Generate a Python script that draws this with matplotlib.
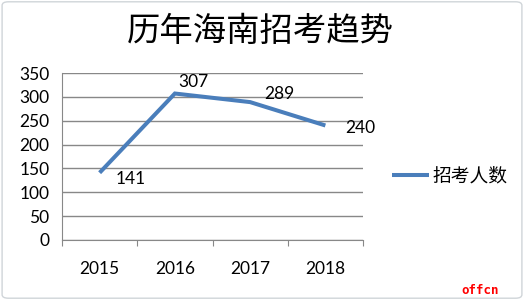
import matplotlib
matplotlib.use('Agg')
import matplotlib.pyplot as plt
from matplotlib.patches import FancyBboxPatch

plt.rcParams['font.family'] = ['Lato', 'Noto Sans CJK SC', 'DejaVu Sans']

years = ['2015', '2016', '2017', '2018']
applicants = [141, 307, 289, 240]
y_ticks = [0, 50, 100, 150, 200, 250, 300, 350]
series_name = '招考人数'
title = '历年海南招考趋势'

# label offsets in pixels (dx, dy) relative to each point
label_offsets = [(16, -6), (3, 12), (14, 8), (20, -3)]

LINE = '#4a7ebb'
GRID = '#888888'

fig = plt.figure(figsize=(5.24, 3.0), dpi=100)
fig.patch.set_facecolor('white')
ax = fig.add_axes([62 / 524, 1 - 240 / 300, 301 / 524, 167 / 300])

x = list(range(len(years)))
line, = ax.plot(x, applicants, color=LINE, linewidth=2.9,
                solid_capstyle='butt', solid_joinstyle='miter', label=series_name)

for xi, v, (dx, dy) in zip(x, applicants, label_offsets):
    ax.annotate(str(v), xy=(xi, v), xytext=(dx * 0.72, dy * 0.72),
                textcoords='offset points', ha='left', va='center',
                fontsize=12.5, color='black')

ax.set_xlim(-0.5, len(years) - 0.5)
ax.set_ylim(0, 350)
ax.set_yticks(y_ticks)
ax.tick_params(axis='y', length=0, pad=9, labelsize=12.5)
ax.yaxis.grid(True, color=GRID, linewidth=1)
ax.set_axisbelow(True)

ax.set_xticks([i - 0.5 for i in range(len(years) + 1)])
ax.set_xticklabels([])
ax.tick_params(axis='x', which='major', length=4, color=GRID, direction='out')
ax.set_xticks(x, minor=True)
ax.set_xticklabels(years, minor=True)
ax.tick_params(axis='x', which='minor', length=0, pad=15, labelsize=12.5)

for side in ['top', 'right']:
    ax.spines[side].set_visible(False)
ax.spines['left'].set_color(GRID)
ax.spines['bottom'].set_color(GRID)

fig.text(260 / 524, 1 - 31 / 300, title, ha='center', va='center',
         fontsize=24, family=['Noto Sans CJK SC', 'DejaVu Sans'])

fig.legend(handles=[line], loc='center left', bbox_to_anchor=(392 / 524, 1 - 176 / 300),
           frameon=False, handlelength=1.95, handletextpad=0.2,
           borderpad=0, borderaxespad=0,
           prop={'family': ['Noto Sans CJK SC', 'DejaVu Sans'], 'size': 13.5})

fig.text(499 / 524, 1 - 290 / 300, 'offcn', ha='right', va='center',
         color='red', fontsize=9, family='DejaVu Sans Mono', fontweight='bold')

border = FancyBboxPatch((0.004, 0.006), 0.992, 0.988, boxstyle='round,pad=0,rounding_size=0.012',
                        transform=fig.transFigure, facecolor='none',
                        edgecolor='#d0d5d9', linewidth=1)
fig.patches.append(border)

fig.savefig('out.png', dpi=100)
